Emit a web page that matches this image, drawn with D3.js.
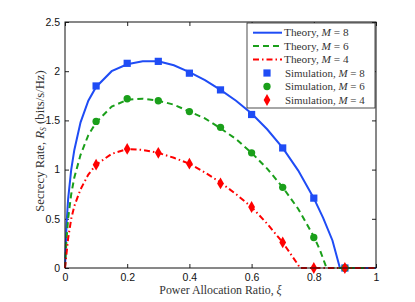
<!DOCTYPE html>
<html><head><meta charset="utf-8">
<script src="https://cdn.jsdelivr.net/npm/d3@7/dist/d3.min.js"></script>
<style>body{margin:0;background:#fff}svg{display:block}</style>
</head><body>
<script>
// Theory curves
const theoryXi8 = [0,0.005,0.01,0.02,0.03,0.05,0.075,0.1,0.15,0.2,0.25,0.3,0.35,0.4,0.45,0.5,0.55,0.6,0.65,0.7,0.75,0.8,0.83,0.86,0.884,1];
const theoryR8  = [0,0.45,0.7,1.0,1.2,1.48,1.7,1.84,2.0,2.07,2.1,2.1,2.06,1.99,1.91,1.81,1.7,1.57,1.41,1.22,0.99,0.71,0.51,0.28,0,0];
const theoryXi6 = [0,0.005,0.01,0.02,0.03,0.05,0.075,0.1,0.15,0.2,0.25,0.3,0.35,0.4,0.45,0.5,0.55,0.6,0.65,0.7,0.75,0.8,0.82,0.841,1];
const theoryR6  = [0,0.3,0.5,0.75,0.92,1.15,1.35,1.48,1.64,1.71,1.72,1.70,1.66,1.59,1.52,1.42,1.31,1.17,1.01,0.82,0.6,0.32,0.18,0,0];
const theoryXi4 = [0,0.005,0.01,0.02,0.03,0.05,0.075,0.1,0.15,0.2,0.25,0.3,0.35,0.4,0.45,0.5,0.55,0.6,0.65,0.7,0.75,0.755,1];
const theoryR4  = [0,0.15,0.3,0.5,0.63,0.8,0.95,1.05,1.16,1.21,1.2,1.17,1.12,1.06,0.97,0.87,0.75,0.62,0.45,0.26,0.03,0,0];
// Simulation points
const simXi = [0.1,0.2,0.3,0.4,0.5,0.6,0.7,0.8,0.9];
const simR8 = [1.85,2.08,2.10,1.98,1.81,1.56,1.22,0.71,0];
const simR6 = [1.49,1.72,1.70,1.59,1.43,1.17,0.82,0.31,0];
const simR4 = [1.05,1.21,1.17,1.06,0.86,0.62,0.26,0,0];
const xTicks = [0,0.2,0.4,0.6,0.8,1];
const yTicks = [0,0.5,1,1.5,2,2.5];
const xTickLabels = ["0","0.2","0.4","0.6","0.8","1"];
const yTickLabels = ["0","0.5","1","1.5","2","2.5"];
const legendLabels = ["Theory, ","Theory, ","Theory, ","Simulation, ","Simulation, ","Simulation, "];
const legendM = ["8","6","4","8","6","4"];

const W=415,H=302;
const blue="#1f4cf5", green="#1a9f1a", red="#ff0000";
const svg=d3.select("body").append("svg").attr("width",W).attr("height",H);
const L=65,R=376,T=22,B=268;
const x=d3.scaleLinear().domain([0,1]).range([L,R]);
const y=d3.scaleLinear().domain([0,2.5]).range([B,T]);

function fit(sel,target){ // scale font-size so the text spans target px
  const fs=+sel.attr("font-size"); const w=sel.node().getBBox().width;
  if(w>0) sel.attr("font-size",fs*target/w);
}

const tickFont="'Liberation Sans',Arial,sans-serif";
const gx=svg.append("g").attr("transform",`translate(0,${B})`)
  .call(d3.axisBottom(x).tickValues(xTicks).tickFormat((d,i)=>xTickLabels[i]).tickSizeInner(-4).tickSizeOuter(0).tickPadding(6));
const gxt=svg.append("g").attr("transform",`translate(0,${T})`)
  .call(d3.axisTop(x).tickValues(xTicks).tickFormat("").tickSizeInner(-4).tickSizeOuter(0));
const gy=svg.append("g").attr("transform",`translate(${L},0)`)
  .call(d3.axisLeft(y).tickValues(yTicks).tickFormat((d,i)=>yTickLabels[i]).tickSizeInner(-4).tickSizeOuter(0).tickPadding(5));
const gyr=svg.append("g").attr("transform",`translate(${R},0)`)
  .call(d3.axisRight(y).tickValues(yTicks).tickFormat("").tickSizeInner(-4).tickSizeOuter(0));
[gx,gxt,gy,gyr].forEach(g=>{g.select(".domain").remove();g.selectAll("line").attr("stroke","#222");
  g.selectAll("text").attr("font-family",tickFont).attr("font-size",10.5).attr("fill","#111");});
gx.selectAll("text").attr("dy","0.71em");

const line=d3.line().x(d=>x(d[0])).y(d=>y(d[1]));
const zip=(a,b)=>a.map((v,i)=>[v,b[i]]);
const pg=svg.append("g");
pg.append("path").datum(zip(theoryXi8,theoryR8)).attr("d",line).attr("fill","none").attr("stroke",blue).attr("stroke-width",2);
pg.append("path").datum(zip(theoryXi6,theoryR6)).attr("d",line).attr("fill","none").attr("stroke",green).attr("stroke-width",2).attr("stroke-dasharray","6,4");
pg.append("path").datum(zip(theoryXi4,theoryR4)).attr("d",line).attr("fill","none").attr("stroke",red).attr("stroke-width",2).attr("stroke-dasharray","6,3,1.5,3");

const sq=d3.symbol().type(d3.symbolSquare).size(52);
const ci=d3.symbol().type(d3.symbolCircle).size(42);
const di=d3.symbol().type(d3.symbolDiamond).size(40);
pg.selectAll(".s8").data(zip(simXi,simR8)).join("path").attr("d",sq).attr("transform",d=>`translate(${x(d[0])},${y(d[1])})`).attr("fill",blue);
pg.selectAll(".s6").data(zip(simXi,simR6)).join("path").attr("d",ci).attr("transform",d=>`translate(${x(d[0])},${y(d[1])})`).attr("fill",green);
pg.selectAll(".s4").data(zip(simXi,simR4)).join("path").attr("d",di).attr("transform",d=>`translate(${x(d[0])},${y(d[1])})`).attr("fill",red);

svg.append("rect").attr("x",L).attr("y",T).attr("width",R-L).attr("height",B-T).attr("fill","none").attr("stroke","#111").attr("stroke-width",1);

// legend
const serif="'Liberation Serif','Times New Roman',serif";
const lg=svg.append("g");
lg.append("rect").attr("x",247).attr("y",23).attr("width",128).attr("height",85).attr("fill","#fff").attr("stroke","#222").attr("stroke-width",0.8);
const rowY=[32.7,46,59.5,73,86.5,100];
const styles=[{c:blue,d:null},{c:green,d:"6,4"},{c:red,d:"6,3,1.5,3"}];
for(let i=0;i<3;i++){
  lg.append("line").attr("x1",253).attr("x2",282).attr("y1",rowY[i]).attr("y2",rowY[i]).attr("stroke",styles[i].c).attr("stroke-width",2).attr("stroke-dasharray",styles[i].d);
}
lg.append("path").attr("d",sq).attr("transform",`translate(267,${rowY[3]})`).attr("fill",blue);
lg.append("path").attr("d",ci).attr("transform",`translate(267,${rowY[4]})`).attr("fill",green);
lg.append("path").attr("d",di).attr("transform",`translate(267,${rowY[5]})`).attr("fill",red);
legendLabels.forEach((t,i)=>{
  const tx=lg.append("text").attr("x",i<3?284:285).attr("y",rowY[i]).attr("dy","0.33em").attr("font-family",serif).attr("font-size",9.5).attr("fill","#333");
  tx.append("tspan").text(t);
  tx.append("tspan").attr("font-style","italic").text("M");
  tx.append("tspan").text(" = "+legendM[i]);
  fit(tx,i<3?65:80);
});

// axis titles
const xt=svg.append("text").attr("x",220.5).attr("y",294).attr("text-anchor","middle").attr("font-family",serif).attr("font-size",10.5).attr("fill","#333");
xt.append("tspan").text("Power Allocation Ratio, ");
xt.append("tspan").attr("font-style","italic").text("ξ");
fit(xt,123);
const yt=svg.append("text").attr("transform",`translate(44,141) rotate(-90)`).attr("text-anchor","middle").attr("font-family",serif).attr("font-size",10.5).attr("fill","#333");
yt.append("tspan").text("Secrecy Rate, ");
yt.append("tspan").attr("font-style","italic").text("R");
yt.append("tspan").attr("font-style","italic").attr("font-size",7.5).attr("dy",2).text("S");
yt.append("tspan").attr("dy",-2).text(" (bits/s/Hz)");
fit(yt,143);
</script>
</body></html>
